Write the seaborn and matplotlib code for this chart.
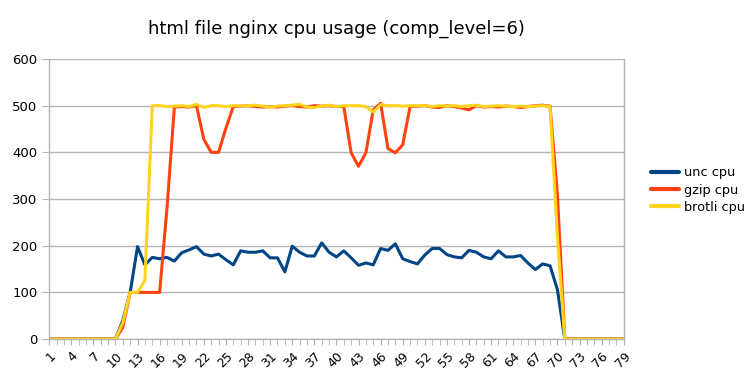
import numpy as np
import pandas as pd
import matplotlib
matplotlib.use("Agg")
import matplotlib.pyplot as plt
import seaborn as sns

x_index = list(range(1, 80))

unc_cpu = [0]*10 + [40, 100, 198, 159, 175, 172, 175, 167, 185, 191,
                    198, 182, 178, 182, 170, 159, 189, 186, 186, 189,
                    174, 174, 144, 199, 186, 178, 178, 206, 186, 176,
                    189, 174, 158, 163, 159, 194, 190, 204, 172, 166,
                    161, 180, 194, 194, 181, 176, 174, 190, 186, 176,
                    172, 189, 176, 176, 179, 163, 149, 161, 157, 106] + [0]*9

gzip_cpu = [0]*10 + [25, 100, 100, 100, 100, 100, 280, 497, 498, 497,
                     500, 428, 400, 400, 452, 498, 499, 500, 498, 497,
                     498, 497, 499, 500, 498, 497, 500, 499, 500, 498,
                     498, 399, 370, 399, 491, 505, 408, 399, 416, 498,
                     499, 500, 497, 496, 500, 498, 495, 491, 500, 497,
                     498, 497, 499, 498, 496, 498, 500, 501, 499, 310] + [0]*9

brotli_cpu = [0]*10 + [35, 100, 100, 125, 500, 500, 498, 499, 500, 498,
                       503, 496, 500, 500, 498, 500, 499, 500, 501, 499,
                       497, 499, 500, 501, 503, 497, 496, 499, 501, 498,
                       500, 500, 500, 498, 486, 502, 500, 500, 499, 500,
                       500, 500, 498, 500, 499, 500, 498, 500, 501, 498,
                       499, 500, 499, 498, 499, 498, 499, 500, 498, 220] + [0]*9

series_names = ["unc cpu", "gzip cpu", "brotli cpu"]
colors = ["#004586", "#ff420e", "#ffd320"]

df = pd.DataFrame({
    "x": x_index * 3,
    "value": unc_cpu + gzip_cpu + brotli_cpu,
    "series": [series_names[0]] * 79 + [series_names[1]] * 79 + [series_names[2]] * 79,
})

sns.set_style("white")
plt.rcParams['font.family'] = ['DejaVu Sans']
plt.rcParams['text.color'] = 'black'
plt.rcParams['xtick.labelcolor'] = 'black'
plt.rcParams['ytick.labelcolor'] = 'black'

fig = plt.figure(figsize=(7.56, 3.78), dpi=100)
ax = fig.add_axes([0.065, 0.103, 0.760, 0.741])

sns.lineplot(data=df, x="x", y="value", hue="series", hue_order=series_names,
             palette=colors, linewidth=2.2, ax=ax, legend=True)

ax.set_xlim(1, 79)
ax.set_ylim(0, 600)
ax.set_yticks(range(0, 601, 100))
ax.set_xticks(range(1, 80, 3))
ax.set_xticks(range(1, 80), minor=True)
ax.set_xticklabels([str(v) for v in range(1, 80, 3)], rotation=45, ha="right",
                   rotation_mode="anchor", fontsize=9, color="black")
ax.tick_params(axis="y", labelsize=9.5, length=5, color="#b3b3b3", direction="out",
               left=True, labelcolor="black")
ax.tick_params(axis="x", which="both", length=4, color="#b3b3b3", direction="out", bottom=True)
ax.grid(axis="y", color="#b3b3b3", linewidth=1)
ax.grid(axis="x", visible=False)
for s in ["left", "right", "bottom", "top"]:
    ax.spines[s].set_color("#b3b3b3")
    ax.spines[s].set_linewidth(1)
ax.spines["top"].set_visible(False)
ax.set_xlabel("")
ax.set_ylabel("")
ax.set_axisbelow(True)

ax.set_title("html file nginx cpu usage (comp_level=6)", fontsize=13, pad=18, color="black")

leg = ax.legend(loc="center left", bbox_to_anchor=(1.027, 0.532), frameon=False,
                fontsize=9.3, handlelength=2.2, handletextpad=0.4, labelspacing=0.32)
for line in leg.get_lines():
    line.set_linewidth(3)
for t in leg.get_texts():
    t.set_color("black")

fig.savefig("out.png", dpi=100)
